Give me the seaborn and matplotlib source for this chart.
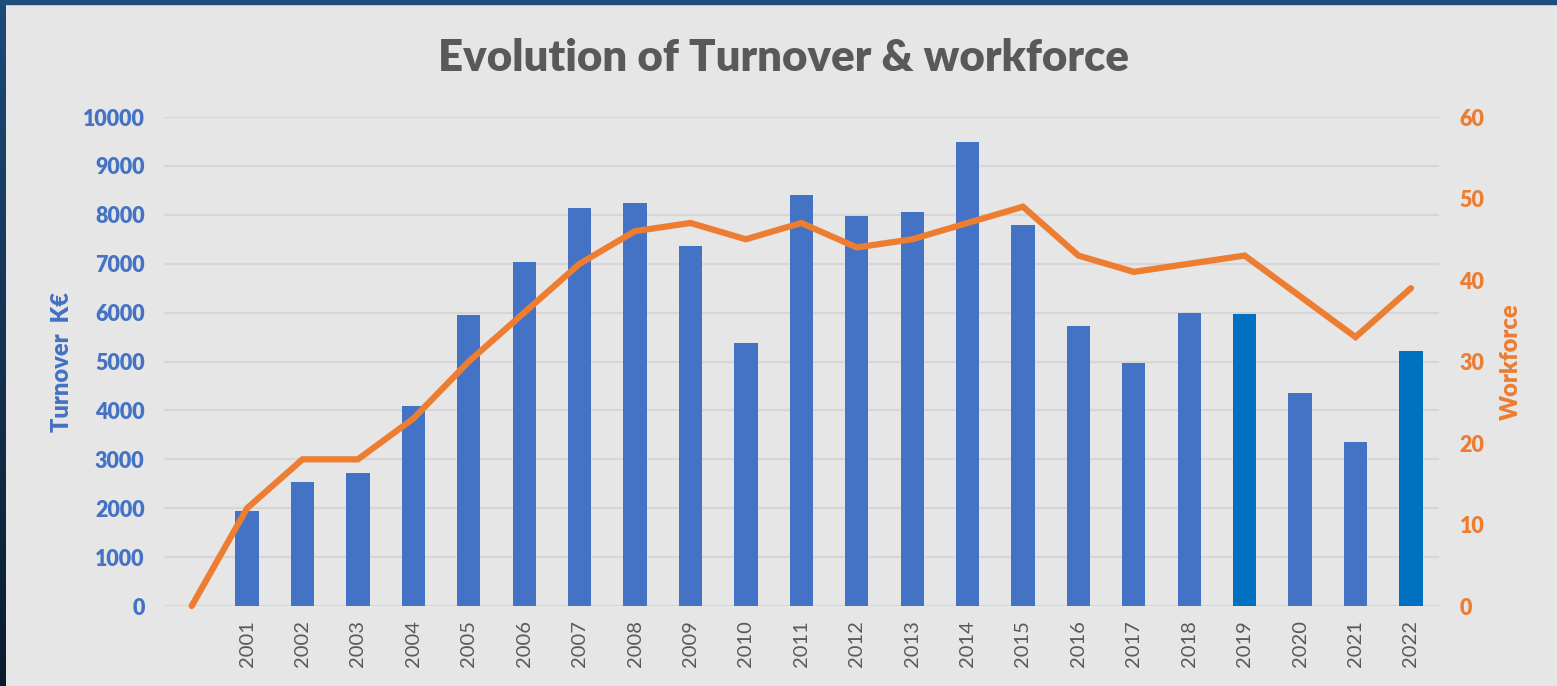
import numpy as np
import pandas as pd
import matplotlib
matplotlib.use('Agg')
import matplotlib.pyplot as plt
import seaborn as sns

# chart data
years = [''] + [str(y) for y in range(2001, 2023)]
turnover = [np.nan, 1950, 2540, 2720, 4090, 5950, 7030, 8130, 8250, 7360, 5380,
            8400, 7980, 8050, 9490, 7800, 5720, 4970, 5990, 5980, 4350, 3350, 5220]
workforce = [0, 12, 18, 18, 23, 30, 36, 42, 46, 47, 45,
             47, 44, 45, 47, 49, 43, 41, 42, 43, 38, 33, 39]
highlight = ['2019', '2022']

BLUE = '#4472C4'
DARK_BLUE = '#0070C0'
ORANGE = '#ED7D31'
BG = '#e6e6e6'

sns.set_style('white')
plt.rcParams['font.family'] = ['Lato', 'DejaVu Sans']

df = pd.DataFrame({'year': years, 'turnover': turnover, 'workforce': workforce})
colors = {y: (DARK_BLUE if y in highlight else BLUE) for y in years}

fig = plt.figure(figsize=(15.57, 6.86), dpi=100, facecolor=BG)
ax = fig.add_axes([0.1053, 0.1166, 0.8187, 0.7128], facecolor=BG)

sns.barplot(data=df, x='year', y='turnover', hue='year', order=years,
            palette=colors, legend=False, width=0.42, ax=ax, saturation=1,
            linewidth=0)
ax.set_ylim(0, 10000)
ax.set_xlim(-0.5, len(years) - 0.5)
ax.set_yticks(range(0, 10001, 1000))
ax.grid(axis='y', color='#d6d6d6', linewidth=1.6)
ax.set_axisbelow(True)
ax.tick_params(axis='y', colors=BLUE, labelsize=15.5, length=0, pad=14)
ax.tick_params(axis='x', colors='#595959', labelsize=14.5, length=0, pad=10,
               labelrotation=90)
for lab in ax.get_yticklabels():
    lab.set_fontweight('heavy')
ax.set_xlabel('')
ax.set_ylabel('Turnover  K€', color=BLUE, fontsize=17, fontweight='heavy', labelpad=7)
sns.despine(ax=ax, left=True, bottom=True)

ax2 = ax.twinx()
sns.lineplot(x=np.arange(len(years)), y=df['workforce'], color=ORANGE,
             linewidth=4.5, ax=ax2, clip_on=False, solid_capstyle='round',
             solid_joinstyle='miter')
ax2.set_ylim(0, 60)
ax2.set_yticks(range(0, 61, 10))
ax2.tick_params(axis='y', colors=ORANGE, labelsize=15.5, length=0, pad=15)
for lab in ax2.get_yticklabels():
    lab.set_fontweight('heavy')
ax2.set_ylabel('Workforce', color=ORANGE, fontsize=17, fontweight='heavy', labelpad=11)
sns.despine(ax=ax2, left=True, bottom=True, right=True)

fig.text(0.503, 0.915, 'Evolution of Turnover & workforce', ha='center', va='center',
         fontsize=31.5, fontweight='heavy', color='#595959')

# dark frame on top and left
grad = np.linspace(0, 1, 256).reshape(-1, 1)
cmap = matplotlib.colors.LinearSegmentedColormap.from_list('frame', ['#1c4b7a', '#0b1b2c'])
lax = fig.add_axes([0, 0, 6 / 1557, 1])
lax.imshow(grad, aspect='auto', cmap=cmap)
lax.axis('off')
fig.add_artist(plt.Rectangle((0, 1 - 4 / 686), 1, 4 / 686, transform=fig.transFigure,
                             color='#1f4e7c', zorder=5))

fig.savefig('out.png', dpi=100, facecolor=BG)
